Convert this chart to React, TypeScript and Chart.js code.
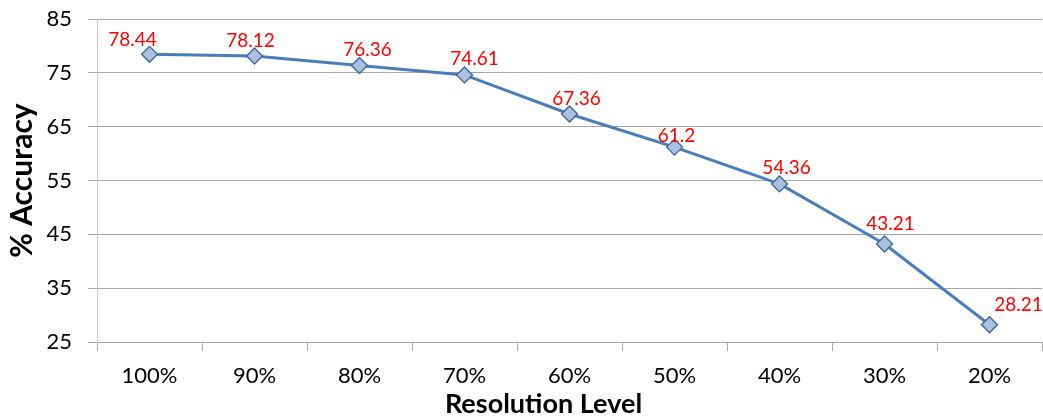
import React, { useEffect, useRef } from "react";
import { Chart, registerables } from "chart.js";

Chart.register(...registerables);

const categories = ["100%", "90%", "80%", "70%", "60%", "50%", "40%", "30%", "20%"];
const accuracy = [78.44, 78.12, 76.36, 74.61, 67.36, 61.2, 54.36, 43.21, 28.21];
const yTicks = [25, 35, 45, 55, 65, 75, 85];
const xTitle = "Resolution Level";
const yTitle = "% Accuracy";

const FONT = "Lato, 'Liberation Sans', sans-serif";

const labelPlugin = {
  id: "valueLabels",
  afterDatasetsDraw(chart: any, _args: any, opts: any) {
    const ctx = chart.ctx;
    const meta = chart.getDatasetMeta(0);
    const dx: number[] = opts.dx || [];
    const dy: number[] = opts.dy || [];
    ctx.save();
    ctx.font = `19px ${FONT}`;
    ctx.fillStyle = "#ff0000";
    ctx.textAlign = "center";
    ctx.textBaseline = "middle";
    meta.data.forEach((pt: any, i: number) => {
      const v = chart.data.datasets[0].data[i];
      ctx.fillText(String(v), pt.x + (dx[i] || 0), pt.y + (dy[i] ?? -16));
    });
    // x axis title (shifted slightly left of the plot centre, as in the original)
    const area = chart.chartArea;
    ctx.font = `bold 27px ${FONT}`;
    ctx.fillStyle = "#000";
    ctx.textBaseline = "alphabetic";
    ctx.fillText(xTitle, (area.left + area.right) / 2 - 26, chart.height - 7);
    ctx.restore();
  },
};

export default function App() {
  const ref = useRef<HTMLCanvasElement>(null);
  useEffect(() => {
    document.body.style.margin = "0";
    const chart = new Chart(ref.current!, {
      type: "line",
      data: {
        labels: categories,
        datasets: [
          {
            data: accuracy,
            borderColor: "#4a7ebb",
            borderWidth: 3,
            pointStyle: "rectRot",
            pointRadius: 8,
            pointBackgroundColor: "#a9c0e0",
            pointBorderColor: "#3c6595",
            pointBorderWidth: 1.3,
            tension: 0,
          },
        ],
      },
      options: {
        responsive: false,
        animation: false,
        layout: { autoPadding: false, padding: { top: 19, right: 1, left: 0, bottom: 0 } },
        plugins: {
          legend: { display: false },
          tooltip: { enabled: false },
          valueLabels: {
            dx: [-17, -4, 8, 10, 7, 2, 7, 6, 29],
            dy: [-14, -15, -16, -16, -15, -11, -16, -20, -20],
          },
        } as any,
        scales: {
          x: {
            offset: true,
            grid: {
              offset: true,
              drawOnChartArea: false,
              color: "#a6a6a6",
              tickLength: 9,
            },
            border: { color: "#a6a6a6" },
            ticks: { color: "#000", font: { family: FONT, size: 22 }, padding: 12 },
            title: { display: false },
            afterFit(scale: any) {
              scale.height = 78;
            },
          },
          y: {
            min: 25,
            max: 85,
            afterBuildTicks(scale: any) {
              scale.ticks = yTicks.map((v) => ({ value: v }));
            },
            grid: { color: "#a6a6a6", tickLength: 9 },
            border: { color: "#c8c8c8" },
            ticks: { color: "#000", font: { family: FONT, size: 22 }, padding: 16 },
            title: {
              display: true,
              text: yTitle,
              color: "#000",
              font: { family: FONT, size: 30, weight: "bold" },
              padding: { top: 4, bottom: 0 },
            },
            afterFit(scale: any) {
              scale.width = 97;
              scale.paddingTop = 0;
              scale.paddingBottom = 0;
            },
          },
        },
      },
      plugins: [labelPlugin],
    });
    return () => chart.destroy();
  }, []);
  return (
    <div style={{ position: "absolute", left: 0, top: 0 }}>
      <canvas ref={ref} width={1043} height={420} style={{ width: 1043, height: 420 }} />
    </div>
  );
}
